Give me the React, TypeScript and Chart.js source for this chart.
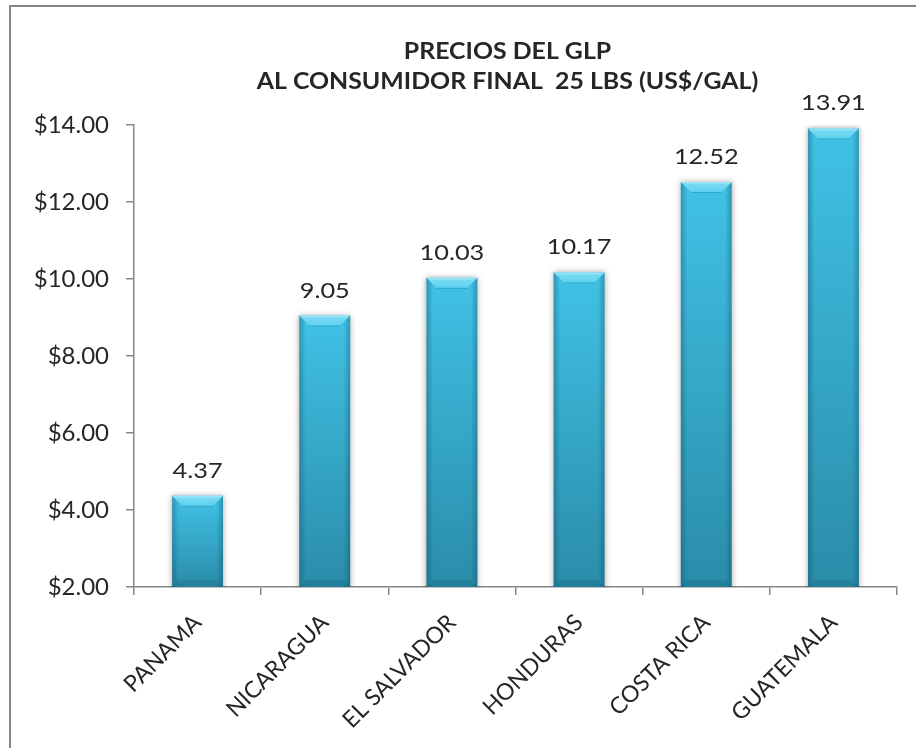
import { useEffect, useRef } from "react";
import { Chart, registerables } from "chart.js";
import type { ChartConfiguration, Plugin } from "chart.js";

Chart.register(...registerables);

const countries = ["PANAMA", "NICARAGUA", "EL SALVADOR", "HONDURAS", "COSTA RICA", "GUATEMALA"];
const prices = [4.37, 9.05, 10.03, 10.17, 12.52, 13.91];
const titleLines = ["PRECIOS DEL GLP", "AL CONSUMIDOR FINAL  25 LBS (US$/GAL)"];
const yMin = 2;
const yMax = 14;
const yStep = 2;

const FONT = "Lato, 'Open Sans', sans-serif";
const AXIS = "#868686";
const TEXT = "#262626";

// bars: vertical gradient per bar, from its own top down to the axis
function barFill(ctx: any) {
  const chart = ctx.chart;
  if (!chart.chartArea || ctx.type !== "data") return "#36aacd";
  const y = chart.scales.y;
  const top = y.getPixelForValue(ctx.raw);
  const bottom = y.getPixelForValue(yMin);
  const g = chart.ctx.createLinearGradient(0, top, 0, bottom);
  g.addColorStop(0, "#40c2e6");
  g.addColorStop(1, "#2a8ca9");
  return g;
}

// text drawn a little wider than the font, like the stretched original
function wideText(ctx: CanvasRenderingContext2D, s: string, x: number, y: number, sx: number) {
  ctx.save();
  ctx.translate(x, y);
  ctx.scale(sx, 1);
  ctx.fillText(s, 0, 0);
  ctx.restore();
}

const decor: Plugin<"bar"> = {
  id: "decor",
  beforeDraw(chart) {
    const { ctx, chartArea } = chart;
    const cx = (chartArea.left + chartArea.right) / 2;
    ctx.save();
    ctx.fillStyle = TEXT;
    ctx.font = `bold 22px ${FONT}`;
    ctx.textAlign = "center";
    ctx.textBaseline = "middle";
    wideText(ctx, titleLines[0], cx - 8, chartArea.top - 73, 1.13);
    wideText(ctx, titleLines[1], cx - 8, chartArea.top - 43, 1.13);
    ctx.restore();
  },
  beforeDatasetsDraw(chart) {
    const { ctx } = chart;
    ctx.save();
    ctx.shadowColor = "rgba(0,0,0,0.35)";
    ctx.shadowBlur = 6;
  },
  afterDatasetsDraw(chart) {
    const { ctx, chartArea } = chart;
    ctx.restore();
    const meta = chart.getDatasetMeta(0);
    meta.data.forEach((el: any, i: number) => {
      const { x, y, width } = el.getProps(["x", "y", "width"], true);
      const base = chartArea.bottom;
      const l = x - width / 2;
      const r = x + width / 2;
      const b = 10;
      ctx.save();
      // darker side edges
      const side = ctx.createLinearGradient(l, 0, r, 0);
      side.addColorStop(0, "rgba(10,60,80,0.32)");
      side.addColorStop(0.13, "rgba(10,60,80,0)");
      side.addColorStop(0.87, "rgba(10,60,80,0)");
      side.addColorStop(1, "rgba(10,60,80,0.32)");
      ctx.fillStyle = side;
      ctx.fillRect(l, y, width, base - y);
      // top bevel
      const cap = ctx.createLinearGradient(0, y, 0, y + b);
      cap.addColorStop(0, "#a6ecfb");
      cap.addColorStop(0.25, "#78daf4");
      cap.addColorStop(1, "#5dd1ef");
      ctx.fillStyle = cap;
      ctx.beginPath();
      ctx.moveTo(l, y);
      ctx.lineTo(r, y);
      ctx.lineTo(r - b, y + b);
      ctx.lineTo(l + b, y + b);
      ctx.closePath();
      ctx.fill();
      // faint line under the bevel
      ctx.strokeStyle = "rgba(30,120,150,0.35)";
      ctx.lineWidth = 1;
      ctx.beginPath();
      ctx.moveTo(l + b, y + b + 0.5);
      ctx.lineTo(r - b, y + b + 0.5);
      ctx.stroke();
      // bottom bevel
      ctx.fillStyle = "rgba(20,80,100,0.2)";
      ctx.beginPath();
      ctx.moveTo(l, base);
      ctx.lineTo(r, base);
      ctx.lineTo(r - 7, base - 7);
      ctx.lineTo(l + 7, base - 7);
      ctx.closePath();
      ctx.fill();
      // value label
      ctx.fillStyle = TEXT;
      ctx.font = `22px ${FONT}`;
      ctx.textAlign = "center";
      ctx.textBaseline = "alphabetic";
      wideText(ctx, prices[i].toFixed(2), x, y - 18, 1.15);
      ctx.restore();
    });
  },
};

export default function App() {
  const canvasRef = useRef<HTMLCanvasElement>(null);

  useEffect(() => {
    if (!canvasRef.current) return;
    const config: ChartConfiguration<"bar"> = {
      type: "bar",
      data: {
        labels: countries,
        datasets: [
          {
            data: prices,
            backgroundColor: barFill,
            borderWidth: 0,
            categoryPercentage: 1,
            barPercentage: 0.4,
          },
        ],
      },
      options: {
        animation: false,
        responsive: true,
        maintainAspectRatio: false,
        layout: { padding: { left: 0, right: 19, top: 125, bottom: 0 } },
        plugins: {
          legend: { display: false },
          title: { display: false },
          tooltip: { enabled: false },
        },
        scales: {
          x: {
            afterFit: (s) => {
              s.height = 161;
            },
            border: { color: AXIS, width: 1.5 },
            grid: { drawOnChartArea: false, drawTicks: true, tickLength: 8, color: AXIS, lineWidth: 1.5 },
            ticks: {
              color: TEXT,
              font: { family: FONT, size: 23 },
              minRotation: 45,
              maxRotation: 45,
              padding: 14,
            },
          },
          y: {
            min: yMin,
            max: yMax,
            afterFit: (s) => {
              s.width = 134;
            },
            border: { color: AXIS, width: 1.5 },
            grid: { drawOnChartArea: false, drawTicks: true, tickLength: 8, color: AXIS, lineWidth: 1.5 },
            ticks: {
              stepSize: yStep,
              color: TEXT,
              font: { family: FONT, size: 24 },
              padding: 17,
              callback: (v) => "$" + Number(v).toFixed(2),
            },
          },
        },
      },
      plugins: [decor],
    };
    const chart = new Chart(canvasRef.current, config);
    return () => chart.destroy();
  }, []);

  return (
    <div style={{ position: "absolute", left: 0, top: 0, width: 916, height: 748, overflow: "hidden", background: "#fff" }}>
      <div
        style={{
          position: "absolute",
          left: 9,
          top: 5,
          width: 1000,
          height: 1000,
          borderTop: "2px solid #858585",
          borderLeft: "2px solid #858585",
        }}
      />
      <div style={{ position: "absolute", left: 0, top: 0, width: 916, height: 748 }}>
        <canvas ref={canvasRef} />
      </div>
    </div>
  );
}
